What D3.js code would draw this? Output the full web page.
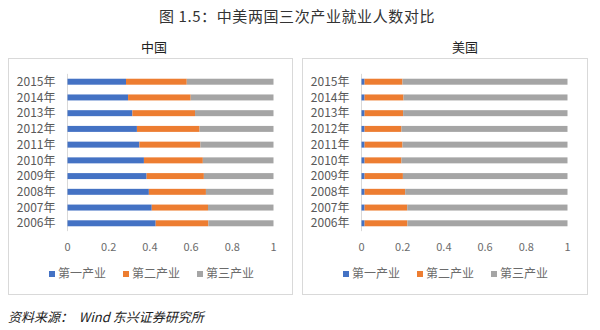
<!DOCTYPE html>
<html><head><meta charset="utf-8">
<script src="https://cdn.jsdelivr.net/npm/d3@7"></script>
<style>body{margin:0;background:#fff}svg{display:block}</style>
</head><body>
<svg id="c" width="600" height="330"></svg>
<script>
const years = ["2006年","2007年","2008年","2009年","2010年","2011年","2012年","2013年","2014年","2015年"];
const seriesNames = ["第一产业","第二产业","第三产业"];
const chinaPrimary   = [0.428,0.409,0.395,0.384,0.371,0.349,0.337,0.315,0.294,0.284];
const chinaSecondary = [0.256,0.273,0.277,0.278,0.286,0.296,0.304,0.304,0.304,0.295];
const usPrimary      = [0.015,0.015,0.015,0.015,0.015,0.015,0.015,0.015,0.015,0.015];
const usSecondary    = [0.208,0.207,0.197,0.186,0.179,0.184,0.179,0.187,0.189,0.184];
const xTicks = [0,0.2,0.4,0.6,0.8,1];
const tickLabels = ["0","0.2","0.4","0.6","0.8","1"];
const colors = ["#4472C4","#ED7D31","#A5A5A5"];

const svg = d3.select("#c");
const font = "'Noto Sans CJK SC','Noto Sans',sans-serif";

svg.append("text").attr("x",297).attr("y",22).attr("text-anchor","middle")
  .attr("font-family",font).attr("font-size",15).attr("letter-spacing",0.6).attr("fill","#333")
  .text("图 1.5：中美两国三次产业就业人数对比");

function panel(px, pw, title, titleX, prim, sec){
  const g = svg.append("g");
  g.append("rect").attr("x",px+0.5).attr("y",58.5).attr("width",pw).attr("height",236)
    .attr("fill","#fff").attr("stroke","#d9d9d9");
  g.append("text").attr("x",titleX).attr("y",52).attr("text-anchor","middle")
    .attr("font-family",font).attr("font-size",13).attr("fill","#222").text(title);
  const x0 = px + 59.5;
  const x = d3.scaleLinear().domain([0,1]).range([x0, x0+206]);
  const y = d3.scaleBand().domain(years.slice().reverse()).range([73.85,231.15]).paddingInner(0.62).paddingOuter(0.31);
  const rows = years.map((yr,i)=>{
    const v=[prim[i],sec[i],1-prim[i]-sec[i]];
    let c=0; return {yr, segs:v.map((d,k)=>{const s={k,a:c,b:c+d};c+=d;return s;})};
  });
  g.append("line").attr("x1",x(0)).attr("x2",x(0)).attr("y1",y.range()[0]).attr("y2",y.range()[1])
    .attr("stroke","#d9d9d9");
  const r = g.selectAll("g.row").data(rows).join("g");
  r.selectAll("rect").data(d=>d.segs.map(s=>({...s,yr:d.yr}))).join("rect")
    .attr("x",d=>x(d.a)).attr("width",d=>x(d.b)-x(d.a))
    .attr("y",d=>y(d.yr)).attr("height",y.bandwidth()).attr("fill",d=>colors[d.k]);
  g.selectAll("text.yl").data(years).join("text").attr("class","yl")
    .attr("x",x0-12).attr("y",d=>y(d)+y.bandwidth()/2).attr("dy","0.35em")
    .attr("text-anchor","end").attr("font-family",font).attr("font-size",12).attr("fill","#595959").text(d=>d);
  g.selectAll("text.xt").data(xTicks).join("text").attr("class","xt")
    .attr("x",d=>x(d)).attr("y",251).attr("text-anchor","middle")
    .attr("font-family",font).attr("font-size",11).attr("fill","#6b6b6b").text((d,i)=>tickLabels[i]);
  const lx = px + 41;
  const lg = g.selectAll("g.lg").data(seriesNames).join("g").attr("transform",(d,i)=>`translate(${lx+i*74},274)`);
  lg.append("rect").attr("x",0).attr("y",-3).attr("width",6).attr("height",6).attr("fill",(d,i)=>colors[i]);
  lg.append("text").attr("x",9).attr("y",0).attr("dy","0.35em").attr("font-family",font)
    .attr("font-size",12).attr("fill","#6b6b6b").text(d=>d);
}
panel(8, 284, "中国", 154, chinaPrimary, chinaSecondary);
panel(302, 285, "美国", 465, usPrimary, usSecondary);

svg.append("text").attr("x",8).attr("y",322).attr("font-family",font).attr("font-style","italic")
  .attr("font-size",13).attr("fill","#222").attr("xml:space","preserve").text("资料来源：  Wind 东兴证券研究所");
</script>
</body></html>
